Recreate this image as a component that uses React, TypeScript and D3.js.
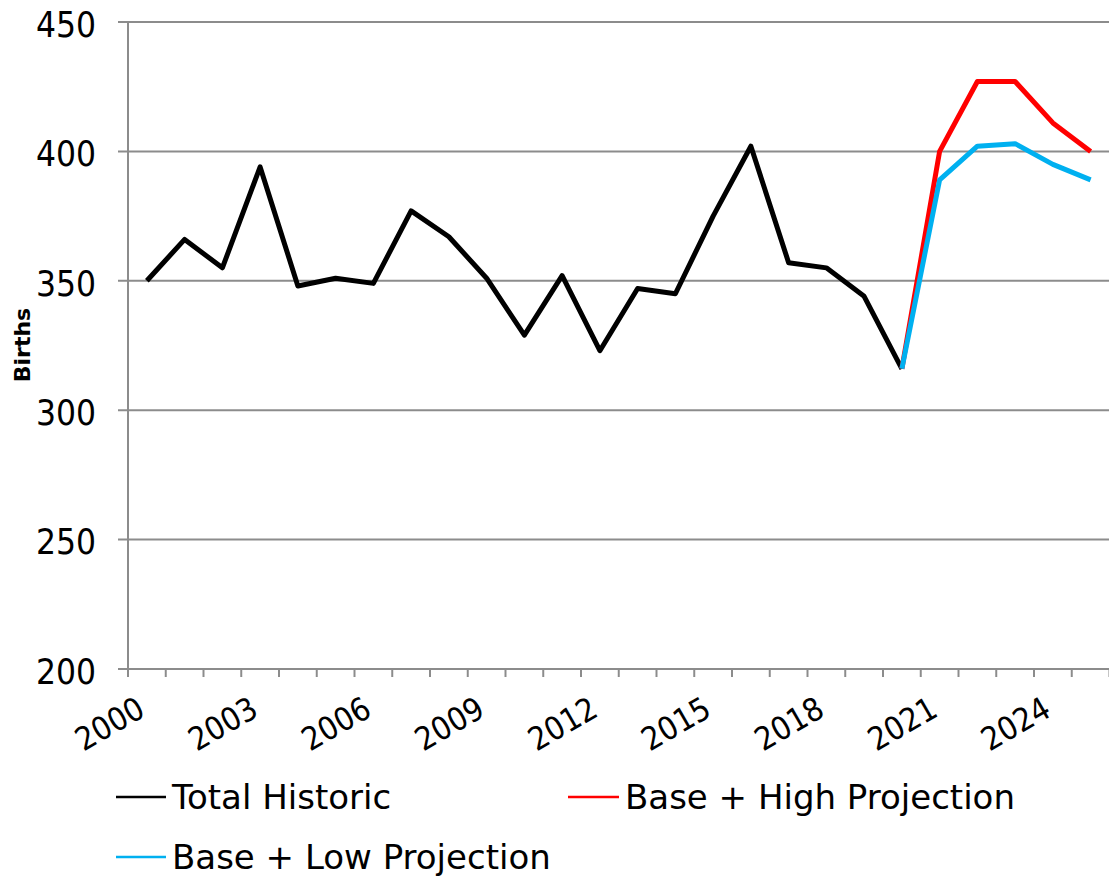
import React from "react";
import * as d3 from "d3";

const years = d3.range(2000, 2026).map(String);
const tickLabels = ["2000", "2003", "2006", "2009", "2012", "2015", "2018", "2021", "2024"];
const historicYears = d3.range(2000, 2021).map(String);
const historic = [350, 366, 355, 394, 348, 351, 349, 377, 367, 351, 329, 352, 323, 347, 345, 375, 402, 357, 355, 344, 316];
const projYears = ["2020", "2021", "2022", "2023", "2024", "2025"];
const highProj = [316, 400, 427, 427, 411, 400];
const lowProj = [316, 389, 402, 403, 395, 389];
const yTicks = [200, 250, 300, 350, 400, 450];

const W = 1109, H = 876;
const L = 128, R = 1109.5, T = 22, B = 669;
const FONT = "'DejaVu Sans', sans-serif";
const FONT_C = "'DejaVu Sans Condensed', 'DejaVu Sans', sans-serif";

export default function App() {
  const x = d3.scaleBand().domain(years).range([L, R]);
  const y = d3.scaleLinear().domain([200, 450]).range([B, T]);
  const cx = (yr: string) => (x(yr) as number) + x.bandwidth() / 2;
  const line = d3.line<[string, number]>().x(d => cx(d[0])).y(d => y(d[1]));
  const hist = historicYears.map((yr, i) => [yr, historic[i]] as [string, number]);
  const high = projYears.map((yr, i) => [yr, highProj[i]] as [string, number]);
  const low = projYears.map((yr, i) => [yr, lowProj[i]] as [string, number]);
  const grid = "#8c8c8c";
  const boundaries = years.map(yr => x(yr) as number).concat([R]);
  return (
    <svg width={W} height={H} style={{ position: "absolute", left: 0, top: 0, background: "#fff" }} fontFamily={FONT}>
      {yTicks.map(t => (
        <g key={t}>
          <line x1={L - 10} x2={R} y1={y(t)} y2={y(t)} stroke={grid} strokeWidth={2} />
          <text x={96} y={y(t)} dy="0.42em" textAnchor="end" fontSize={35} fontFamily={FONT_C} fill="#000">{t}</text>
        </g>
      ))}
      <line x1={L} x2={L} y1={T} y2={B} stroke={grid} strokeWidth={2} />
      {boundaries.map((bx, i) => (
        <line key={i} x1={bx} x2={bx} y1={B} y2={B + 8} stroke={grid} strokeWidth={2} />
      ))}
      {tickLabels.map(t => (
        <text key={t} transform={`translate(${cx(t)},${B + 46}) rotate(-30)`} textAnchor="end" fontSize={32} fontFamily={FONT_C} fill="#000">{t}</text>
      ))}
      <text transform={`translate(30,345) rotate(-90)`} textAnchor="middle" fontSize={22} fontWeight="bold" fill="#000">Births</text>
      <path d={line(hist) as string} fill="none" stroke="#000" strokeWidth={5} strokeLinejoin="round" />
      <path d={line(high) as string} fill="none" stroke="#ff0000" strokeWidth={5} strokeLinejoin="round" />
      <path d={line(low) as string} fill="none" stroke="#00b0f0" strokeWidth={5} strokeLinejoin="round" />
      <g fontSize={34} fill="#000">
        <line x1={116} x2={166} y1={797} y2={797} stroke="#000" strokeWidth={2.5} />
        <text x={172} y={797} dy="0.36em">Total Historic</text>
        <line x1={568} x2={619} y1={797} y2={797} stroke="#ff0000" strokeWidth={2.5} />
        <text x={625} y={797} dy="0.36em">Base + High Projection</text>
        <line x1={116} x2={166} y1={857} y2={857} stroke="#00b0f0" strokeWidth={2.5} />
        <text x={172} y={857} dy="0.36em">Base + Low Projection</text>
      </g>
    </svg>
  );
}
